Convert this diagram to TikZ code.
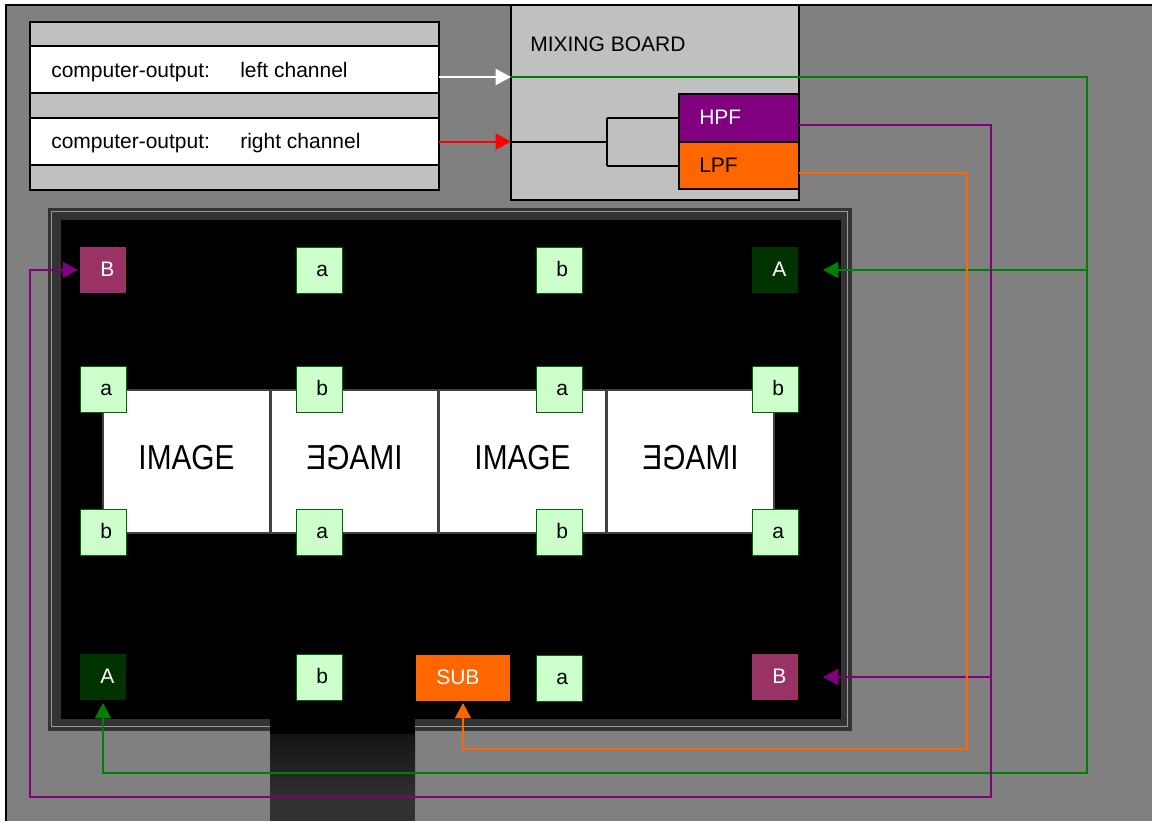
\documentclass[tikz,border=0pt]{standalone}
\usepackage{fontspec}
\setmainfont{Liberation Sans}
\usepackage{graphicx}
\usetikzlibrary{arrows.meta}
\definecolor{bggray}{HTML}{808080}
\definecolor{lgray}{HTML}{C0C0C0}
\definecolor{hpfc}{HTML}{800080}
\definecolor{lpfc}{HTML}{FF6600}
\definecolor{lineg}{HTML}{008000}
\definecolor{spkB}{HTML}{993366}
\definecolor{spkA}{HTML}{003300}
\definecolor{spkL}{HTML}{CCFFCC}
\definecolor{band}{HTML}{333333}
\definecolor{standtop}{HTML}{141414}
\definecolor{standbot}{HTML}{313131}
\tikzset{
  txt/.style={font=\fontsize{15.75}{18}\selectfont, inner sep=0pt, anchor=base west},
  blk/.style={draw=black, line width=1.5pt},
  rbox/.style 2 args={anchor=north west, minimum width={#1*0.75pt}, minimum height={#2*0.75pt}, inner sep=0pt, outer sep=0pt},
  lgbox/.style={fill=spkL, draw=black!60!green, line width=0.6pt},
  abox/.style={fill=spkA},
  bbox/.style={fill=spkB},
  imgpanel/.style={rbox={167}{143}, fill=white, draw=black!75, line width=1pt},
  imgtxt/.style={font=\fontsize{26}{30}\selectfont, inner sep=0pt, anchor=base},
  conn/.style={line width=1.5pt},
  tip/.style={-{Triangle[length=11.5pt,width=12pt]}},
}
\newcommand\spk[6]{%
  \node[rbox={46}{46}, #4] (#1) at (#2,#3) {};
  \node[txt, text=#5] (#1-t) at (#2+20,#3+29) {#6};}
\begin{document}
\begin{tikzpicture}[x=0.75pt,y=-0.75pt]
\useasboundingbox (0,0) rectangle (1152,821);
\clip (0,0) rectangle (1152,821);
% background
\fill[white] (0,0) rectangle (1152,821);
\fill[bggray] (6,5) rectangle (1152,821);
\draw[line width=1.5pt] (6,821) -- (6,5) -- (1152,5);
% computer output box
\node[rbox={409}{168}, fill=lgray, blk] (outbox) at (30,22) {};
\node[rbox={409}{47}, fill=white, blk] (rowL) at (30,46) {};
\node[rbox={409}{47}, fill=white, blk] (rowR) at (30,118) {};
\node[txt] (tL1) at (51,77) {computer-output:};
\node[txt] (tL2) at (240,77) {left channel};
\node[txt] (tR1) at (51,148) {computer-output:};
\node[txt] (tR2) at (240,148) {right channel};
% mixing board
\node[rbox={288}{195}, fill=lgray, blk] (mix) at (511,5) {};
\node[txt] (mixt) at (530,51) {MIXING BOARD};
\node[rbox={120}{48}, fill=hpfc, blk] (hpf) at (679,94) {};
\node[rbox={120}{47}, fill=lpfc, blk] (lpf) at (679,142) {};
\node[txt, text=white] (hpft) at (699,124) {HPF};
\node[txt] (lpft) at (699,172) {LPF};
\coordinate (split) at (607,141.5);
\draw[blk] (rowR.east -| mix.west) -- (split);
\draw[blk] (split |- hpf.west) -- (split |- lpf.west);
\draw[blk] (split |- hpf.west) -- (hpf.west);
\draw[blk] (split |- lpf.west) -- (lpf.west);
% display frame
\node[rbox={803}{522}, fill=band, draw=black!80, line width=0.75pt] (frame) at (48,208) {};
\draw[black!40, line width=0.9pt] (51.5,211.5) rectangle (847.5,726.5);
\node[rbox={780}{499}, fill=black] (screen) at (61,220) {};
% image panels
\node[imgpanel] (p1) at (103,390) {};
\node[imgpanel] (p2) at (271,390) {};
\node[imgpanel] (p3) at (439,390) {};
\node[imgpanel] (p4) at (607,390) {};
\node[imgtxt] (i1) at (186.5,469) {\scalebox{0.86}[1]{IMAGE}};
\node[imgtxt] (i2) at (354.5,469) {\scalebox{-0.86}[1]{IMAGE}};
\node[imgtxt] (i3) at (522.5,469) {\scalebox{0.86}[1]{IMAGE}};
\node[imgtxt] (i4) at (690.5,469) {\scalebox{-0.86}[1]{IMAGE}};
% speakers
\spk{B1}{80}{247}{bbox}{white}{B}
\spk{s12}{296}{247}{lgbox}{black}{a}
\spk{s13}{536}{247}{lgbox}{black}{b}
\spk{A1}{752}{247}{abox}{white}{A}
\spk{s21}{80}{366}{lgbox}{black}{a}
\spk{s22}{296}{366}{lgbox}{black}{b}
\spk{s23}{536}{366}{lgbox}{black}{a}
\spk{s24}{752}{366}{lgbox}{black}{b}
\spk{s31}{80}{509}{lgbox}{black}{b}
\spk{s32}{296}{509}{lgbox}{black}{a}
\spk{s33}{536}{509}{lgbox}{black}{b}
\spk{s34}{752}{509}{lgbox}{black}{a}
\spk{A2}{80}{654}{abox}{white}{A}
\spk{s42}{296}{654}{lgbox}{black}{b}
\spk{s44}{536}{655}{lgbox}{black}{a}
\spk{B2}{752}{654}{bbox}{white}{B}
\node[rbox={94}{46}, fill=lpfc] (sub) at (416,655) {};
\node[txt, text=white] (subt) at (436,684) {SUB};
% stand
\fill[black] (270,719) rectangle (415,734);
\shade[top color=standtop, bottom color=standbot] (270,734) rectangle (415,800);
\fill[standbot] (270,800) rectangle (415,821);
% connectors
\coordinate (wl) at ([yshift=-5.625pt]rowL.east);
\draw[conn, white, tip] (wl) -- (wl -| mix.west);
\draw[conn, red, tip] (rowR.east) -- (rowR.east -| mix.west);
\draw[conn, lineg, tip] (wl -| mix.west) -| (1087,773) -| ([yshift=-2.25pt]A2.south);
\draw[conn, lineg, tip] (1087,270) -- ([xshift=18.75pt]A1.east);
\draw[conn, hpfc, tip] ([yshift=-5.25pt]hpf.east) -| (991,797) -- (30,797) |- ([xshift=-1.5pt]B1.west);
\draw[conn, hpfc, tip] (991,677) -- ([xshift=18.75pt]B2.east);
\draw[conn, lpfc, tip] ([yshift=-5.625pt]lpf.east) -| (967,749) -| ([yshift=-1.5pt]sub.south);
\end{tikzpicture}
\end{document}
